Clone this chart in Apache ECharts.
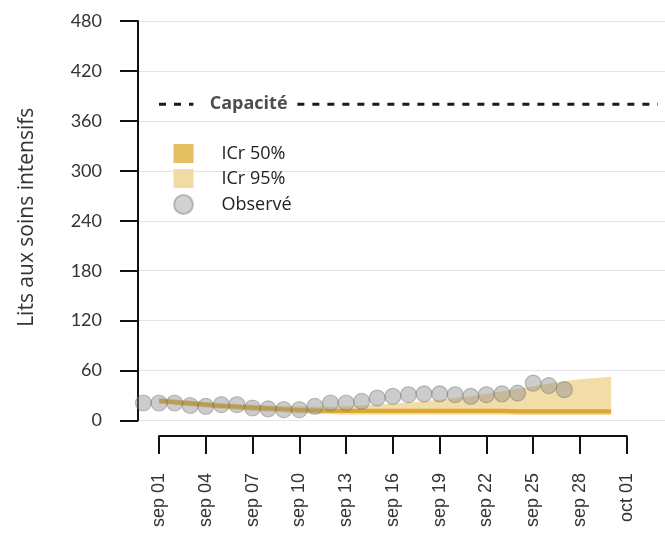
<!DOCTYPE html>
<html><head><meta charset="utf-8">
<script src="https://cdn.jsdelivr.net/npm/echarts@6/dist/echarts.min.js"></script>
<style>html,body{margin:0;padding:0;background:#fff}#c{width:665px;height:533px}</style>
</head><body><div id="c"></div>
<script>
// ---------- data ----------
const baseDate = '2020-09-01';
const obsDates = ['2020-08-31','2020-09-01','2020-09-02','2020-09-03','2020-09-04','2020-09-05','2020-09-06',
  '2020-09-07','2020-09-08','2020-09-09','2020-09-10','2020-09-11','2020-09-12','2020-09-13','2020-09-14',
  '2020-09-15','2020-09-16','2020-09-17','2020-09-18','2020-09-19','2020-09-20','2020-09-21','2020-09-22',
  '2020-09-23','2020-09-24','2020-09-25','2020-09-26','2020-09-27'];
const obsValues = [21,21,21,18,17,19,19,15,14,13,13,17,21,21,23,27,29,31,32,32,31,29,31,32,33,45,42,37];

const bandDates = ['2020-09-01','2020-09-02','2020-09-03','2020-09-04','2020-09-05','2020-09-06','2020-09-07',
  '2020-09-08','2020-09-09','2020-09-10','2020-09-11','2020-09-12','2020-09-13','2020-09-14','2020-09-15',
  '2020-09-16','2020-09-17','2020-09-18','2020-09-19','2020-09-20','2020-09-21','2020-09-22','2020-09-23',
  '2020-09-24','2020-09-25','2020-09-26','2020-09-27','2020-09-28','2020-09-29','2020-09-30'];
const lo95 = [20,18.5,17,15.5,14,12.5,11.5,10.5,9.5,8.5,8,7.5,7,7,7,7,7,7,7,7,7,7,7,6.5,6.5,6.5,6.5,6.5,6.5,6.5];
const lo50 = [21,19.5,18,16.5,15,14,13,12,11,10,9.5,9,9,9,9,9,9,9,9,9,9,9,9,8.5,8.5,8.5,8.5,8.5,8.5,8.5];
const hi50 = [26,24.5,23,21.5,20,19,18,17,16,15,14.5,14,14,14,14,14,14,14,14,14,14,14,14,13.5,13.5,13.5,13.5,13.5,13.5,13.5];
const hi95 = [27,25.5,24,22.5,21,20,19,18,17.5,17,16.5,16.5,17,18,19,20,21.5,23,25,27,29,32,35,38,41,44.5,47.5,49.5,51,52.5];

const capacity = 380;
const capSegments = [['2020-09-01T00:00:00Z','2020-09-03T05:00:00Z'],['2020-09-09T21:00:00Z','2020-10-03T00:00:00Z']];
const capLabelDate = '2020-09-06T18:00:00Z';
const capLabel = 'Capacité';

const yTicks = [0,60,120,180,240,300,360,420,480];
const xTickLabels = ['sep 01','sep 04','sep 07','sep 10','sep 13','sep 16','sep 19','sep 22','sep 25','sep 28','oct 01'];
const yTitle = 'Lits aux soins intensifs';

// ---------- helpers ----------
function day(d){
  const s = d.length === 10 ? d + 'T00:00:00Z' : d;
  return (Date.parse(s) - Date.parse(baseDate + 'T00:00:00Z')) / 864e5;
}
const W = 665, plotLeft = 138, axisLeft = 159, axisRight = 626.7;
const spanDays = 30;
const pxPerDay = (axisRight - axisLeft) / spanDays;
const xMin = -(axisLeft - plotLeft) / pxPerDay;
const xMax = spanDays + (W - axisRight) / pxPerDay;

const bandX = bandDates.map(day);
const obsData = obsDates.map((d,i)=>[day(d), obsValues[i]]);

const c50 = '#dba932', c95 = '#f2dca8';

function bandSeries(name, lo, hi, color){
  return {
    type: 'custom', name: name, silent: true, xAxisIndex: 0, yAxisIndex: 0,
    itemStyle: {color: color},
    encode: {x: 0, y: [1, 2]},
    data: bandX.map((x,i)=>[x, lo[i], hi[i]]),
    renderItem: function(params, api){
      if (params.dataIndex !== 0) return null;
      const pts = [];
      for (let i = 0; i < bandX.length; i++) pts.push(api.coord([bandX[i], hi[i]]));
      for (let i = bandX.length - 1; i >= 0; i--) pts.push(api.coord([bandX[i], lo[i]]));
      return {type: 'polygon', shape: {points: pts}, style: {fill: color}};
    }
  };
}

const capSeries = capSegments.map((seg, k)=>({
  type: 'line', name: 'cap' + k, data: [[day(seg[0]), capacity],[day(seg[1]), capacity]],
  symbol: 'none', silent: true, z: 6,
  lineStyle: {color: '#1a1a1a', width: 3, type: [7,8]}
}));

const chart = echarts.init(document.getElementById('c'), null, {renderer:'canvas'});
chart.setOption({
  animation: false,
  backgroundColor: '#fff',
  grid: [
    {left: plotLeft, right: 0, top: 21, bottom: 112.5},
    {left: axisLeft, right: W - axisRight, top: 21, bottom: 97}
  ],
  legend: {
    orient: 'vertical', left: 173, top: 144, padding: 0,
    itemWidth: 20, itemHeight: 19, itemGap: 6, selectedMode: false,
    textStyle: {fontFamily: 'Open Sans', fontSize: 18, color: '#222', padding: [0,0,0,23]},
    data: [
      {name: 'ICr 50%', icon: 'rect', itemStyle: {color: '#e3bf62'}},
      {name: 'ICr 95%', icon: 'rect', itemStyle: {color: '#f1daa4'}},
      {name: 'Observé', icon: 'circle', itemStyle: {color: '#c6c6c6'}}
    ]
  },
  xAxis: [
    {type: 'value', gridIndex: 0, min: xMin, max: xMax, show: false},
    {type: 'value', gridIndex: 1, min: 0, max: spanDays, interval: 3,
     axisLine: {show: true, onZero: false, lineStyle: {color: '#111', width: 2}},
     axisTick: {show: true, length: 18, lineStyle: {color: '#111', width: 2}},
     axisLabel: {rotate: 90, margin: 37, fontFamily: 'Liberation Sans', fontSize: 18, color: '#333',
       formatter: v => xTickLabels[Math.round(v/3)]},
     splitLine: {show: false}}
  ],
  yAxis: [
    {type: 'value', gridIndex: 0, min: yTicks[0], max: yTicks[yTicks.length-1], interval: yTicks[1]-yTicks[0],
     name: yTitle, nameLocation: 'middle', nameRotate: 90, nameGap: 100,
     nameTextStyle: {fontFamily: 'Open Sans', fontSize: 21, color: '#333', padding: [0,0,0,7]},
     axisLine: {show: true, onZero: false, lineStyle: {color: '#111', width: 2}},
     axisTick: {show: true, length: 18, lineStyle: {color: '#111', width: 2}},
     axisLabel: {margin: 36, fontFamily: 'Lato', fontSize: 18, color: '#333'},
     splitLine: {show: true, lineStyle: {color: '#e4e4e4', width: 1}}},
    {type: 'value', gridIndex: 1, min: 0, max: 1, show: false}
  ],
  series: [
    bandSeries('ICr 95%', lo95, hi95, c95),
    bandSeries('ICr 50%', lo50, hi50, c50),
    {type: 'scatter', name: 'Observé', data: obsData, symbolSize: 16, z: 5,
     itemStyle: {color: 'rgba(140,140,140,0.55)', borderColor: 'rgba(110,110,110,0.5)', borderWidth: 1.2}},
    ...capSeries,
    {type: 'scatter', name: 'capLabel', data: [[day(capLabelDate), capacity]], symbolSize: 1, silent: true, z: 7,
     itemStyle: {color: 'rgba(0,0,0,0)'},
     label: {show: true, position: 'inside', formatter: capLabel,
       fontFamily: 'Open Sans', fontWeight: 'bold', fontSize: 18, color: '#222'}}
  ]
});
</script></body></html>
